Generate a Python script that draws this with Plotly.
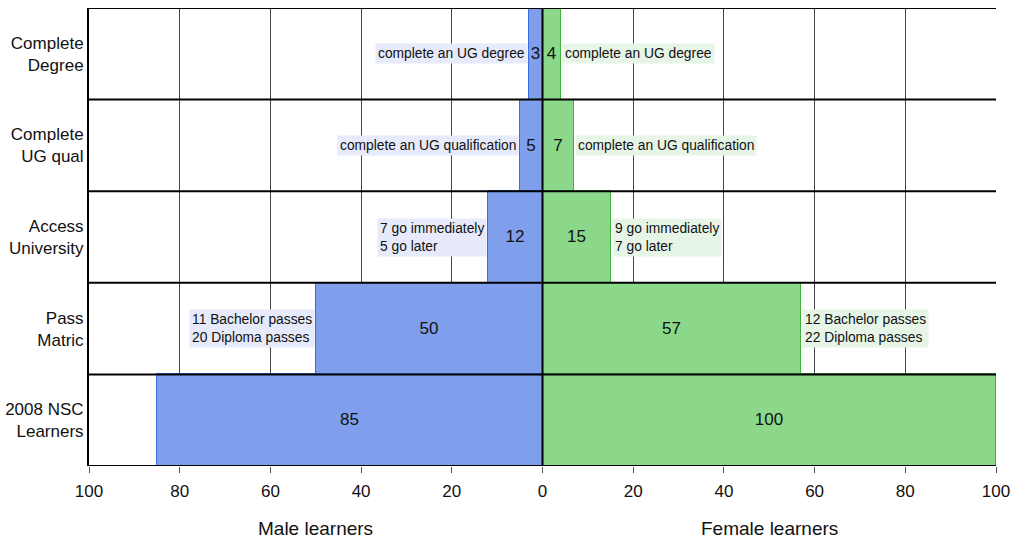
import plotly.graph_objects as go

# Learner pipeline per 100 learners, bottom row first
stages = ["2008 NSC<br>Learners", "Pass<br>Matric", "Access<br>University",
          "Complete<br>UG qual", "Complete<br>Degree"]
male = [85, 50, 12, 5, 3]
female = [100, 57, 15, 7, 4]
male_notes = ["", "11 Bachelor passes<br>20 Diploma passes",
              "7 go immediately<br>5 go later",
              "complete an UG qualification", "complete an UG degree"]
female_notes = ["", "12 Bachelor passes<br>22 Diploma passes",
                "9 go immediately<br>7 go later",
                "complete an UG qualification", "complete an UG degree"]
tick_values = [-100, -80, -60, -40, -20, 0, 20, 40, 60, 80, 100]

FONT = "Liberation Sans, Arial, sans-serif"
BLUE_FILL, BLUE_EDGE = "#7f9fec", "#3a6ee0"
GREEN_FILL, GREEN_EDGE = "#8bd88b", "#3cb43c"

fig = go.Figure()
fig.add_trace(go.Bar(
    y=stages, x=[-v for v in male], orientation="h", name="Male",
    marker=dict(color=BLUE_FILL, line=dict(color=BLUE_EDGE, width=1)),
    text=[str(v) for v in male], textposition="inside",
    insidetextanchor="middle", constraintext="none",
    insidetextfont=dict(family=FONT, size=17, color="#111"),
))
fig.add_trace(go.Bar(
    y=stages, x=female, orientation="h", name="Female",
    marker=dict(color=GREEN_FILL, line=dict(color=GREEN_EDGE, width=1)),
    text=[str(v) for v in female], textposition="inside",
    insidetextanchor="middle", constraintext="none",
    insidetextfont=dict(family=FONT, size=17, color="#111"),
))

# side notes next to the bar ends
for i, (m, f, mn, fn) in enumerate(zip(male, female, male_notes, female_notes)):
    if mn:
        fig.add_annotation(x=-m, y=stages[i], text=mn, showarrow=False,
                           xanchor="right", align="left", xshift=-1,
                           bgcolor="#e6eafa", borderpad=2,
                           font=dict(family=FONT, size=13.8, color="#111"))
    if fn:
        fig.add_annotation(x=f, y=stages[i], text=fn, showarrow=False,
                           xanchor="left", align="left", xshift=1,
                           bgcolor="#e7f5e7", borderpad=2,
                           font=dict(family=FONT, size=13.8, color="#111"))

# row separators drawn over the bars
for k in range(len(stages) + 1):
    fig.add_shape(type="line", xref="paper", x0=0, x1=1, yref="y",
                  y0=k - 0.5, y1=k - 0.5, layer="above",
                  line=dict(color="black", width=2))
fig.add_shape(type="line", x0=0, x1=0, yref="paper", y0=0, y1=1,
              layer="above", line=dict(color="black", width=2))

fig.add_annotation(x=0.25, y=-0.137, xref="paper", yref="paper",
                   text="Male learners", showarrow=False,
                   xanchor="center", yanchor="middle",
                   font=dict(family=FONT, size=19, color="#111"))
fig.add_annotation(x=0.75, y=-0.137, xref="paper", yref="paper",
                   text="Female learners", showarrow=False,
                   xanchor="center", yanchor="middle",
                   font=dict(family=FONT, size=19, color="#111"))

fig.update_layout(
    width=1013, height=545,
    margin=dict(l=89, r=17, t=8, b=79),
    barmode="relative", bargap=0,
    showlegend=False,
    plot_bgcolor="white", paper_bgcolor="white",
    font=dict(family=FONT, color="#111"),
)
fig.update_xaxes(
    range=[-100, 100], tickvals=tick_values,
    ticktext=[str(abs(v)) for v in tick_values],
    showgrid=True, gridcolor="#444", gridwidth=1,
    zeroline=False, showline=False, automargin=False,
    ticks="outside", ticklen=6, tickcolor="#555",
    ticklabelstandoff=4,
    tickfont=dict(family=FONT, size=17, color="#111"),
)
fig.update_yaxes(
    showgrid=False, zeroline=False, showline=True, linecolor="black",
    linewidth=2, ticks="", range=[-0.5, len(stages) - 0.5],
    automargin=False,
    tickfont=dict(family=FONT, size=17, color="#111"),
)

fig.write_html("out.html")
